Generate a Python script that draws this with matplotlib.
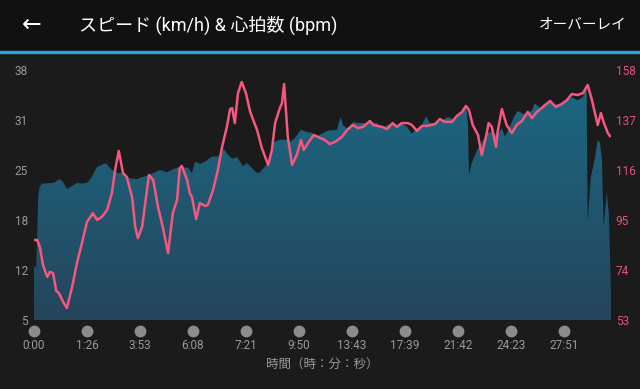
import numpy as np
import matplotlib
matplotlib.use("Agg")
import matplotlib.pyplot as plt
from matplotlib.colors import LinearSegmentedColormap
from matplotlib.patches import Rectangle

plt.rcParams["font.family"] = ["Roboto", "Noto Sans CJK JP", "DejaVu Sans"]

# --- data (x = position along the track, one tick every 10 units) ---
speed_x = [0, 0.4, 0.7, 0.8, 1.1, 1.5, 3.6, 4.9, 5.5, 6.2, 7.2, 8.1, 9.2, 10.2, 10.9,
           11.9, 12.8, 13.6, 14.3, 14.9, 15.8, 16.8, 18.1, 19.4, 20.6, 21.5, 22.5,
           23.8, 25.1, 26.2, 27.5, 29.1, 29.8, 30.4, 31.3, 32.3, 33.2, 33.8, 35.1,
           35.8, 36.6, 37.4, 38.3, 38.9, 39.4, 40.2, 40.8, 41.3, 42.1, 42.6, 43.4,
           44.5, 45.1, 46.4, 47.7, 48.3, 49.2, 50.4, 51.5, 52.5, 53.6, 54.3, 55.5,
           57.2, 57.5, 57.9, 58.3, 59.1, 59.6, 60.2, 61.5, 62.8, 63.4, 64.7, 65.7,
           66.6, 67.5, 68.5, 69.4, 70.4, 71.3, 72.3, 73.2, 74.0, 74.7, 76.0, 77.2,
           78.1, 79.1, 80.4, 81.3, 81.7, 81.9, 82.1, 82.6, 83.6, 84.5, 85.5, 86.4,
           87.4, 88.3, 88.9, 89.8, 90.6, 91.3, 92.3, 93.2, 94.0, 94.5, 95.5, 96.4,
           97.4, 98.3, 99.6, 100.6, 101.5, 102.6, 103.6, 104.2, 104.3, 104.5, 105.1,
           105.8, 106.4, 106.8, 107.2, 107.5, 108.1, 108.5, 108.9]
speed_kmh = [12.1, 11.9, 18.9, 21.5, 22.6, 23.0, 23.1, 23.6, 23.2, 22.3, 22.7, 23.1,
             23.0, 23.2, 23.9, 25.2, 25.5, 25.7, 25.1, 24.7, 24.4, 24.4, 23.7, 23.6,
             23.9, 24.1, 24.4, 24.8, 24.5, 24.9, 25.2, 25.1, 24.4, 25.9, 25.6, 25.9,
             26.4, 26.6, 26.6, 27.6, 26.8, 26.3, 26.5, 25.9, 25.3, 25.7, 25.3, 24.9,
             24.4, 24.5, 25.1, 26.1, 28.4, 28.8, 28.8, 28.5, 29.0, 30.1, 29.8, 29.7,
             29.3, 29.6, 30.0, 30.1, 31.0, 31.8, 30.7, 30.3, 30.7, 31.1, 31.0, 31.0,
             31.1, 31.0, 30.3, 30.7, 31.0, 30.7, 30.9, 30.5, 29.6, 30.3, 30.7, 31.9,
             31.0, 31.0, 31.4, 31.8, 31.5, 32.1, 33.0, 32.7, 30.7, 24.1, 25.7, 27.4,
             28.4, 29.7, 29.8, 29.4, 30.3, 29.2, 30.5, 31.8, 32.6, 32.2, 32.3, 32.7,
             33.6, 33.0, 33.6, 33.8, 33.4, 33.6, 34.0, 34.4, 34.0, 34.4, 36.0, 35.0,
             17.9, 23.9, 26.1, 28.8, 28.4, 26.1, 17.3, 21.8, 19.1, 8.6]

hr_x = [0, 0.6, 1.1, 1.7, 2.5, 3.0, 3.6, 4.2, 4.7, 5.5, 6.2, 7.2, 8.1, 9.1, 10.0,
        10.9, 11.1, 11.9, 12.8, 13.8, 14.7, 15.3, 16.0, 16.8, 17.5, 18.5, 19.1,
        19.6, 20.4, 20.9, 21.7, 22.5, 23.4, 24.3, 25.3, 26.2, 27.0, 27.5, 27.9,
        28.9, 29.4, 29.8, 30.6, 31.3, 32.3, 32.8, 33.8, 34.7, 35.5, 36.4, 37.0,
        37.4, 37.9, 38.5, 39.2, 40.0, 40.8, 42.1, 43.0, 44.2, 44.9, 45.5, 46.4,
        46.8, 47.2, 47.5, 47.9, 48.7, 49.6, 50.4, 50.9, 51.7, 52.8, 53.6, 54.9,
        55.8, 56.8, 58.1, 59.1, 60.2, 61.1, 62.1, 63.4, 64.0, 64.9, 65.7, 66.6,
        67.7, 68.5, 69.4, 70.6, 71.3, 72.3, 73.2, 74.2, 75.7, 76.6, 77.5, 78.9,
        79.8, 80.8, 81.5, 82.1, 82.8, 83.8, 84.5, 85.3, 85.8, 86.4, 87.2, 87.5,
        88.3, 89.2, 90.2, 91.1, 92.1, 93.2, 94.0, 94.9, 95.8, 97.4, 98.5, 99.6,
        100.6, 101.5, 102.6, 103.6, 104.5, 105.3, 106.4, 107.0, 107.5, 108.3, 108.7]
hr_bpm = [86.6, 86.6, 83.7, 76.1, 71.1, 73.2, 72.7, 65.2, 64.3, 60.6, 58.0, 66.9,
          76.9, 85.8, 94.2, 97.1, 97.9, 95.0, 96.3, 99.2, 106.3, 116.0, 124.0, 114.7,
          113.1, 104.7, 92.1, 87.4, 92.1, 100.5, 113.9, 111.8, 100.5, 92.1, 81.1,
          97.9, 103.4, 116.8, 117.7, 111.8, 106.3, 104.7, 95.4, 102.1, 100.9, 101.3,
          107.6, 116.0, 125.7, 134.1, 141.6, 142.0, 135.7, 148.3, 153.0, 148.3,
          140.4, 132.8, 125.2, 118.1, 124.4, 135.7, 142.0, 144.1, 152.1, 142.5,
          129.9, 118.1, 122.3, 128.6, 124.4, 127.3, 130.7, 129.9, 128.6, 126.9,
          127.8, 129.9, 132.8, 134.9, 133.6, 134.1, 136.6, 134.9, 134.5, 134.1,
          133.2, 135.7, 134.1, 135.7, 135.7, 134.9, 132.4, 134.5, 134.5, 135.3,
          137.4, 136.2, 136.2, 138.7, 140.4, 142.9, 141.2, 134.9, 130.7, 122.3,
          129.9, 135.7, 134.1, 125.7, 132.0, 141.6, 134.9, 131.5, 134.9, 136.6,
          140.4, 137.8, 140.4, 142.0, 145.0, 142.5, 143.7, 145.4, 147.9, 147.5,
          148.3, 151.7, 145.4, 134.9, 139.9, 136.2, 131.5, 130.3]

tick_pos = [0, 10, 20, 30, 40, 50, 60, 70, 80, 90, 100]
tick_labels = ["0:00", "1:26", "3:53", "6:08", "7:21", "9:50", "13:43",
               "17:39", "21:42", "24:23", "27:51"]

speed_min, speed_max = 5, 38
hr_min, hr_max = 53, 158

BG = "#1b1b1b"
HEADER = "#111111"
GREY = "#9a9a9a"
PINK = "#f5577f"

W, H = 640, 389
fig = plt.figure(figsize=(W / 100, H / 100), dpi=100, facecolor=BG)

# header bar + accent line
fig.patches.append(Rectangle((0, 1 - 50 / H), 1, 50 / H, transform=fig.transFigure,
                             color=HEADER, zorder=0))
fig.patches.append(Rectangle((0, 1 - 53 / H), 1, 2.5 / H, transform=fig.transFigure,
                             color="#29a3dc", zorder=1))
fig.text(32 / W, 1 - 25 / H, "←", color="white", fontsize=17, ha="center", va="center",
         family=["DejaVu Sans"])
fig.text(79 / W, 1 - 25 / H, "スピード (km/h) & 心拍数 (bpm)", color="white",
         fontsize=13, ha="left", va="center")
fig.text(627 / W, 1 - 25 / H, "オーバーレイ", color="white", fontsize=10.5,
         ha="right", va="center")

left, right, bottom, top = 34 / W, 611 / W, 1 - 320 / H, 1 - 70 / H
ax = fig.add_axes([left, bottom, right - left, top - bottom])
ax.set_facecolor(BG)
ax.set_xlim(0, 108.9)
ax.set_ylim(speed_min, speed_max)

# speed area with vertical gradient
poly = ax.fill_between(speed_x, speed_kmh, speed_min, color="none", lw=0)
cmap = LinearSegmentedColormap.from_list("sp", ["#25455c", "#1b6a85"])
grad = np.linspace(0, 1, 256).reshape(-1, 1)
im = ax.imshow(grad, cmap=cmap, aspect="auto", origin="lower",
               extent=[0, 108.9, speed_min, speed_max], zorder=1)
im.set_clip_path(poly.get_paths()[0], transform=ax.transData)

for s in ax.spines.values():
    s.set_visible(False)

yt = np.linspace(speed_min, speed_max, 6)
ax.set_yticks(yt)
ax.set_yticklabels([f"{v:.0f}" for v in yt])
ax.tick_params(axis="y", length=0, pad=4.5, labelsize=8.5, labelcolor=GREY)

ax.set_xticks(tick_pos)
ax.set_xticklabels(tick_labels)
ax.tick_params(axis="x", length=0, pad=14, labelsize=8.5, labelcolor=GREY)
ax.plot(tick_pos, [-0.044] * len(tick_pos), "o", color="#8c8c8c", ms=7.5,
        transform=ax.get_xaxis_transform(), clip_on=False)
ax.set_xlabel("時間（時：分：秒）", color=GREY, fontsize=9, labelpad=4)

# heart rate on right axis
ax2 = ax.twinx()
ax2.set_ylim(hr_min, hr_max)
ax2.plot(hr_x, hr_bpm, color=PINK, lw=1.8, solid_joinstyle="round")
yt2 = np.linspace(hr_min, hr_max, 6)
ax2.set_yticks(yt2)
ax2.set_yticklabels([f"{v:.0f}" for v in yt2])
ax2.tick_params(axis="y", length=0, pad=3.5, labelsize=8.5, labelcolor="#e0557c")
for s in ax2.spines.values():
    s.set_visible(False)

fig.savefig("out.png", dpi=100, facecolor=BG)
